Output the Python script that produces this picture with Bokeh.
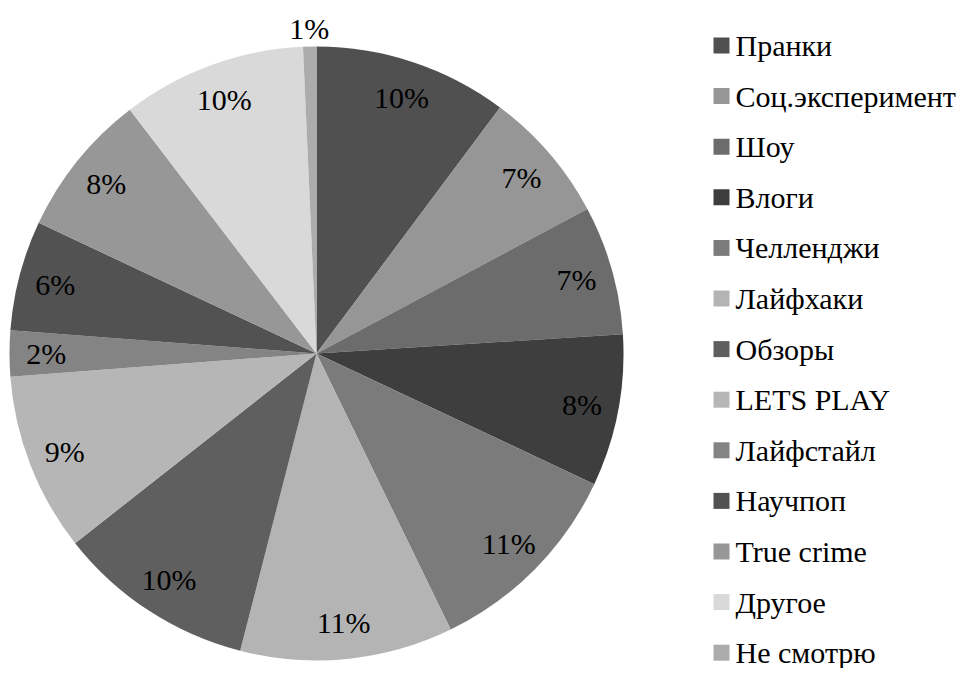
import math
from bokeh.plotting import figure
from bokeh.models import Range1d, ColumnDataSource
from bokeh.core.properties import value
from bokeh.embed import file_html
from bokeh.resources import INLINE

categories = ["Пранки", "Соц.эксперимент", "Шоу", "Влоги", "Челленджи", "Лайфхаки",
              "Обзоры", "LETS PLAY", "Лайфстайл", "Научпоп", "True crime", "Другое", "Не смотрю"]
shares = [10.2, 7.0, 6.8, 8.0, 10.8, 11.2, 10.4, 9.4, 2.4, 5.8, 7.6, 9.7, 0.7]
colors = ["#505050", "#969696", "#6c6c6c", "#3e3e3e", "#7b7b7b", "#b4b4b4",
          "#5f5f5f", "#b6b6b6", "#848484", "#525252", "#979797", "#d9d9d9", "#acacac"]

W, H = 966, 668
FONT = value("'Liberation Serif', 'DejaVu Serif', serif")
cx, cy_px, R = 316, 353, 307
cy = H - cy_px

total = sum(shares)
starts, ends, lx, ly, labels = [], [], [], [], []
cum = 0.0
for s in shares:
    a0 = math.pi / 2 - 2 * math.pi * cum / total
    cum += s
    a1 = math.pi / 2 - 2 * math.pi * cum / total
    starts.append(a0)
    ends.append(a1)
    mid = (a0 + a1) / 2
    rr = R * 0.88 if s / total >= 0.015 else R * 1.06
    lx.append(cx + rr * math.cos(mid))
    ly.append(cy + rr * math.sin(mid))
    labels.append(f"{round(100 * s / total)}%")

src = ColumnDataSource(dict(start=starts, end=ends, color=colors, lx=lx, ly=ly, label=labels))

p = figure(width=W, height=H, output_backend="svg", toolbar_location=None,
           x_range=Range1d(0, W), y_range=Range1d(0, H),
           min_border=0, outline_line_color=None)
p.axis.visible = False
p.grid.visible = False
p.background_fill_color = "white"
p.border_fill_color = "white"

p.wedge(x=cx, y=cy, radius=R, start_angle="start", end_angle="end", direction="clock",
        fill_color="color", line_color=None, source=src)
p.text(x="lx", y="ly", text="label", source=src, text_align="center", text_baseline="middle",
       text_font=FONT, text_font_size="30px", text_color="#000000")

# legend
leg_y_px = [45 + i * 50.6 for i in range(len(categories))]
leg_src = ColumnDataSource(dict(
    x=[721] * len(categories),
    y=[H - y for y in leg_y_px],
    tx=[735] * len(categories),
    name=categories, color=colors))
p.rect(x="x", y="y", width=16, height=16, fill_color="color", line_color=None, source=leg_src)
p.text(x="tx", y="y", text="name", source=leg_src, text_align="left", text_baseline="middle",
       text_font=FONT, text_font_size="30px", text_color="#000000")

open("out.html", "w").write(file_html(p, INLINE))
